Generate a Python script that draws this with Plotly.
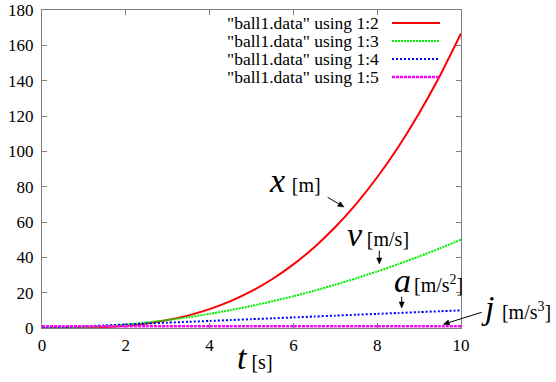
import math
import plotly.graph_objects as go

# ---- data ----
t_vals = [0, 0.5, 1, 1.5, 2, 2.5, 3, 3.5, 4, 4.5, 5, 5.5, 6, 6.5, 7, 7.5, 8, 8.5, 9, 9.5, 10]
x_vals = [0, 0.02, 0.17, 0.56, 1.33, 2.6, 4.5, 7.15, 10.67, 15.19, 20.83, 27.73, 36.0,
          45.77, 57.17, 70.31, 85.33, 102.35, 121.5, 142.9, 166.67]
v_vals = [0, 0.13, 0.5, 1.13, 2.0, 3.13, 4.5, 6.13, 8.0, 10.13, 12.5, 15.13, 18.0,
          21.13, 24.5, 28.13, 32.0, 36.13, 40.5, 45.13, 50.0]
a_vals = [0, 0.5, 1, 1.5, 2, 2.5, 3, 3.5, 4, 4.5, 5, 5.5, 6, 6.5, 7, 7.5, 8, 8.5, 9, 9.5, 10]
j_vals = [1] * 21

series_names = ['"ball1.data" using 1:2', '"ball1.data" using 1:3',
                '"ball1.data" using 1:4', '"ball1.data" using 1:5']
x_ticks = [0, 2, 4, 6, 8, 10]
y_ticks = [0, 20, 40, 60, 80, 100, 120, 140, 160, 180]

# ---- styling ----
W, H = 556, 382
L, R, T, B = 42, 95, 10, 54
PW, PH = W - L - R, H - T - B
FONT = "Times New Roman"
colors = ["#ff0000", "#00ee00", "#0000ff", "#ff00ff"]
dashes = ["solid", "2px,1px", "2px,2px", "3px,1px"]
widths = [2, 2, 2, 2.5]


def fx(px):
    return (px - L) / PW


def fy(py):
    return (H - B - py) / PH


fig = go.Figure()
for name, ys, c, d, w in zip(series_names, [x_vals, v_vals, a_vals, j_vals], colors, dashes, widths):
    fig.add_trace(go.Scatter(x=t_vals, y=ys, mode="lines", name=name, showlegend=False,
                             line=dict(color=c, dash=d, width=w, shape="spline", smoothing=0.6)))

ann = []
shapes = []
# custom gnuplot-style legend (text right, sample line on the right)
for i, (name, c, d, w) in enumerate(zip(series_names, colors, dashes, widths)):
    py = 23 + 18 * i
    ann.append(dict(xref="paper", yref="paper", x=fx(381), y=fy(py), text=name, showarrow=False,
                    xanchor="right", yanchor="middle", font=dict(family=FONT, size=17.5, color="black")))
    shapes.append(dict(type="line", xref="paper", yref="paper", x0=fx(392), x1=fx(440),
                       y0=fy(py), y1=fy(py), line=dict(color=c, dash=d, width=w)))

big = 34
small = 20


def label(sym, unit, space_px):
    return ("<i>%s</i><span style='font-size:%dpx'> </span><span style='font-size:%dpx'>%s</span>"
            % (sym, space_px, small, unit))


labels = [
    (label("x", "[m]", 27), 267, 180),
    (label("v", "[m/s]", 19), 345, 234),
    (label("a", "[m/s<sup>2</sup>]", 12), 392, 280),
    (label("j", "[m/s<sup>3</sup>]", 30), 479, 307),
    (label("t", "[s]", 20), 235, 357),
]
for txt, px, py in labels:
    ann.append(dict(xref="paper", yref="paper", x=fx(px), y=fy(py), text=txt, showarrow=False,
                    xanchor="left", yanchor="middle", font=dict(family=FONT, size=big, color="black")))

# arrows: (head x, head y, tail x, tail y) in page pixels
arrows = [
    (344, 207, 327.7, 197.3),
    (379.3, 264, 379.3, 250.7),
    (401.7, 308, 401.7, 296.7),
    (443.3, 324.3, 481.7, 312.3),
]
HL, HW = 6.0, 2.6
for hx, hy, tx, ty in arrows:
    dx, dy = hx - tx, hy - ty
    n = math.hypot(dx, dy)
    ux, uy = dx / n, dy / n
    bx, by = hx - ux * HL, hy - uy * HL
    px_, py_ = -uy, ux
    shapes.append(dict(type="line", xref="paper", yref="paper", x0=fx(tx), y0=fy(ty),
                       x1=fx(bx), y1=fy(by), line=dict(color="black", width=1)))
    p1 = (fx(hx), fy(hy))
    p2 = (fx(bx + px_ * HW), fy(by + py_ * HW))
    p3 = (fx(bx - px_ * HW), fy(by - py_ * HW))
    path = "M %f,%f L %f,%f L %f,%f Z" % (p1[0], p1[1], p2[0], p2[1], p3[0], p3[1])
    shapes.append(dict(type="path", xref="paper", yref="paper", path=path,
                       fillcolor="black", line=dict(color="black", width=0.5)))

axis_common = dict(showline=True, linecolor="#7f7f7f", linewidth=1, mirror="ticks",
                   ticks="inside", ticklen=5, tickcolor="#7f7f7f", showgrid=False, zeroline=False,
                   automargin=False,
                   tickfont=dict(family=FONT, size=17, color="black"))
fig.update_layout(
    width=W, height=H, margin=dict(l=L, r=R, t=T, b=B), autosize=False,
    plot_bgcolor="white", paper_bgcolor="white",
    xaxis=dict(range=[0, 10], tickvals=x_ticks, ticklabelstandoff=2, **axis_common),
    yaxis=dict(range=[0, 180], tickvals=y_ticks, ticklabelstandoff=4, **axis_common),
    annotations=ann, shapes=shapes,
)
fig.write_html("out.html", config={"displayModeBar": False},
               post_script="document.body.style.margin='0';")
